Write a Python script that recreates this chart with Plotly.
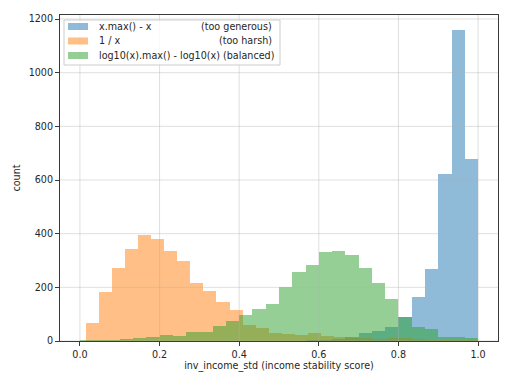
import numpy as np
import plotly.graph_objects as go

# ---------------- data ----------------
n_bins = 30
blue_range = (0.0, 1.0)
orange_range = (0.0143, 1.0)
green_range = (0.0, 1.0)

blue_label = "x.max() - x"
blue_note = "(too generous)"
orange_label = "1 / x"
orange_note = "(too harsh)"
green_label = "log10(x).max() - log10(x)"
green_note = "(balanced)"

blue_counts = [0, 0, 0, 0, 0, 0, 0, 0, 0, 0, 0, 0, 0, 0, 0, 1, 1, 2, 3, 6,
               14, 29, 38, 51, 91, 163, 269, 622, 1158, 678]
orange_counts = [66, 184, 273, 342, 394, 379, 334, 298, 215, 187, 145, 116, 60, 47, 31,
                 26, 21, 29, 19, 14, 12, 10, 8, 10, 12, 6, 4, 3, 2, 2]
green_counts = [2, 3, 5, 7, 12, 16, 22, 20, 34, 34, 56, 74, 97, 119, 138,
                200, 256, 282, 330, 335, 320, 271, 217, 155, 91, 53, 46, 16, 14, 11]

x_ticks = [0.0, 0.2, 0.4, 0.6, 0.8, 1.0]
y_ticks = [0, 200, 400, 600, 800, 1000, 1200]

x_title = "inv_income_std (income stability score)"
y_title = "count"

# ---------------- styling ----------------
FONT = "DejaVu Sans"
FS = 9.6
TXT = "#262626"
C_BLUE = "rgba(31,119,180,0.5)"
C_ORANGE = "rgba(255,127,14,0.5)"
C_GREEN = "rgba(44,160,44,0.5)"
GRID = "rgba(176,176,176,0.5)"
SPINE = "#3a3a3a"

W, H = 512, 385
L, R, T, B = 60, 14, 15, 44
PW, PH = W - L - R, H - T - B


def px2paper(px, py):
    return (px - L) / PW, (H - B - py) / PH


def bar_trace(counts, rng, color, name):
    edges = np.linspace(rng[0], rng[1], n_bins + 1)
    centers = (edges[:-1] + edges[1:]) / 2
    width = edges[1] - edges[0]
    return go.Bar(x=centers, y=counts, width=width, name=name,
                  marker=dict(color=color, line=dict(width=0)),
                  showlegend=False, hoverinfo="x+y")


fig = go.Figure()
fig.add_trace(bar_trace(blue_counts, blue_range, C_BLUE, blue_label))
fig.add_trace(bar_trace(orange_counts, orange_range, C_ORANGE, orange_label))
fig.add_trace(bar_trace(green_counts, green_range, C_GREEN, green_label))

shapes = []
# grid lines drawn above bars (matplotlib default)
for xv in x_ticks:
    shapes.append(dict(type="line", xref="x", yref="paper", x0=xv, x1=xv, y0=0, y1=1,
                       line=dict(color=GRID, width=0.8), layer="above"))
for yv in y_ticks:
    shapes.append(dict(type="line", xref="paper", yref="y", x0=0, x1=1, y0=yv, y1=yv,
                       line=dict(color=GRID, width=0.8), layer="above"))

# legend (matplotlib style)
bx0, by0 = px2paper(64, 65)
bx1, by1 = px2paper(280, 20)
shapes.append(dict(type="rect", xref="paper", yref="paper", x0=bx0, x1=bx1, y0=by0, y1=by1,
                   line=dict(color="#cccccc", width=1), fillcolor="rgba(255,255,255,0.8)",
                   layer="above"))
annotations = []
rows = [(blue_label, blue_note, C_BLUE, 26.5, False),
        (orange_label, orange_note, C_ORANGE, 41, False),
        (green_label, green_note, C_GREEN, 55.5, True)]
for lab, note, col, py, joined in rows:
    px0, pyy0 = px2paper(68, py + 3.5)
    px1, pyy1 = px2paper(88, py - 3.5)
    shapes.append(dict(type="rect", xref="paper", yref="paper", x0=px0, x1=px1, y0=pyy0, y1=pyy1,
                       line=dict(width=0), fillcolor=col, layer="above"))
    tx, ty = px2paper(96.5, py)
    if joined:
        annotations.append(dict(xref="paper", yref="paper", x=tx, y=ty, text=f"{lab} {note}",
                                showarrow=False, xanchor="left", yanchor="middle",
                                font=dict(family=FONT, size=FS, color=TXT)))
    else:
        annotations.append(dict(xref="paper", yref="paper", x=tx, y=ty, text=lab, showarrow=False,
                                xanchor="left", yanchor="middle",
                                font=dict(family=FONT, size=FS, color=TXT)))
        tx2, _ = px2paper(273.5, py)
        annotations.append(dict(xref="paper", yref="paper", x=tx2, y=ty, text=note, showarrow=False,
                                xanchor="right", yanchor="middle",
                                font=dict(family=FONT, size=FS, color=TXT)))

axis_common = dict(showline=True, linecolor=SPINE, linewidth=1, mirror=True,
                   ticks="outside", ticklen=4, tickwidth=1, tickcolor=SPINE,
                   showgrid=False, zeroline=False,
                   tickfont=dict(family=FONT, size=FS, color=TXT))

fig.update_layout(
    width=W, height=H,
    margin=dict(l=L, r=R, t=T, b=B, autoexpand=False),
    paper_bgcolor="white", plot_bgcolor="white",
    barmode="overlay", bargap=0,
    font=dict(family=FONT, size=FS, color=TXT),
    shapes=shapes, annotations=annotations,
    xaxis=dict(range=[-0.05, 1.05], tickvals=x_ticks,
               ticktext=[f"{v:.1f}" for v in x_ticks],
               title=dict(text=x_title, standoff=3, font=dict(family=FONT, size=FS, color=TXT)),
               automargin=False, **axis_common),
    yaxis=dict(range=[0, 1215], tickvals=y_ticks,
               ticktext=[str(v) for v in y_ticks],
               title=dict(text=y_title, standoff=6, font=dict(family=FONT, size=FS, color=TXT)),
               automargin=False, **axis_common),
)

fig.write_html("out.html", config={"displayModeBar": False},
               post_script="document.body.style.margin='0';document.body.style.overflow='hidden';")
